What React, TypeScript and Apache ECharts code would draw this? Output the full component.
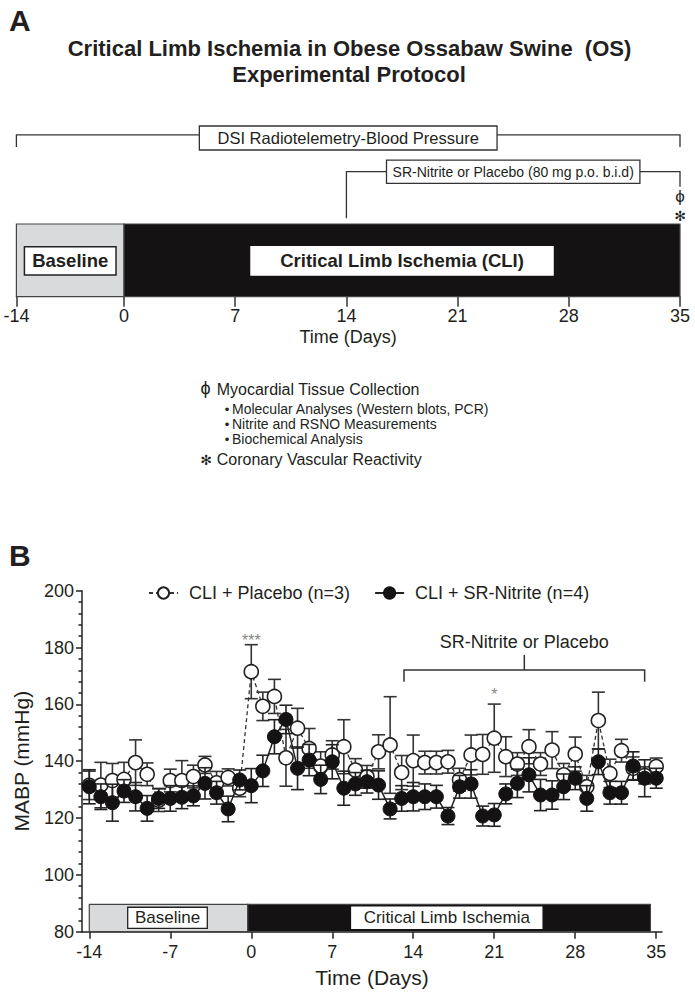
import React, { useEffect, useRef } from 'react';
import * as echarts from 'echarts';

const FONT = '"Liberation Sans", Arial, Helvetica, sans-serif';
const SYM_FONT = '"DejaVu Sans", "Liberation Sans", sans-serif';
const TXT = '#231f20';

// ---------------- Panel A: protocol ----------------
const protocolTickDays = [-14, 0, 7, 14, 21, 28, 35];
const protocolPhaseNames = ['Baseline', 'Critical Limb Ischemia (CLI)'];
const protocolPhaseStart = [-14, 0];
const protocolPhaseEnd = [0, 35];
const protocolBracketNames = ['DSI Radiotelemetry-Blood Pressure', 'SR-Nitrite or Placebo (80 mg p.o. b.i.d)'];
const protocolBracketStart = [-14, 14];
const protocolBracketEnd = [35, 35];
const endpointMarks = ['ϕ', '✻'];
const endpointDay = 35;
const noteHeaders = ['Myocardial Tissue Collection', 'Coronary Vascular Reactivity'];
const noteBullets = ['Molecular Analyses (Western blots, PCR)', 'Nitrite and RSNO Measurements', 'Biochemical Analysis'];

// ---------------- Panel B: MABP ----------------
const days = [-14, -13, -12, -11, -10, -9, -8, -7, -6, -5, -4, -3, -2, -1, 0, 1, 2, 3, 4, 5, 6, 7, 8, 9, 10,
  11, 12, 13, 14, 15, 16, 17, 18, 19, 20, 21, 22, 23, 24, 25, 26, 27, 28, 29, 30, 31, 32, 33, 34, 35];
const placeboMean = [131.5, 131.6, 133.2, 133.6, 139.5, 135.4, 126.3, 133.2, 133.2, 134.6, 138.7, 132.4, 134.3, 130.5,
  171.5, 159.3, 162.8, 141.2, 151.6, 144.5, 138.3, 142.2, 145.1, 136.9, 134.5, 143.3, 145.7, 136.0, 140.2, 139.5,
  139.5, 139.8, 133.5, 142.2, 142.4, 148.1, 141.6, 139.0, 145.1, 139.0, 143.9, 135.2, 142.5, 131.0, 154.3, 135.7,
  143.7, 137.5, 135.0, 138.1];
const placeboSem = [5, 8, 6, 6, 8, 4, 4, 4, 7, 4, 3, 4, 3, 3, 9.5, 5, 6, 10, 7, 7, 5, 5, 9.5, 4, 4, 6, 17, 6, 9, 4,
  4, 4, 4, 7, 7, 12, 7, 4, 6, 4, 6.5, 4, 6, 4, 10, 5, 4, 4, 3, 3];
const nitriteMean = [131.0, 127.5, 125.4, 129.5, 127.5, 123.4, 126.9, 126.9, 127.3, 127.8, 132.2, 128.9, 123.2, 133.4,
  131.4, 136.6, 148.6, 154.7, 137.5, 140.4, 133.6, 139.8, 130.5, 132.0, 132.8, 131.6, 123.2, 126.9, 127.5, 127.5,
  127.5, 120.7, 131.0, 132.0, 120.7, 121.1, 128.5, 132.2, 135.2, 128.1, 128.1, 131.0, 134.0, 126.9, 139.8, 128.9,
  128.9, 138.3, 134.0, 134.0];
const nitriteSem = [6, 4.5, 6.5, 4, 5, 4.5, 3.5, 4.5, 4, 3.5, 5.5, 4, 4.5, 3.5, 6, 5.5, 6, 5, 7.5, 5.5, 5, 6, 6, 4,
  4, 5, 3.5, 4.5, 5, 4.5, 4, 3, 4, 5, 3.5, 4, 3.5, 5, 6, 5.5, 5, 4.5, 4, 4.5, 4.5, 4, 4, 5, 6.5, 3.5];
const seriesNames = ['CLI + Placebo (n=3)', 'CLI + SR-Nitrite (n=4)'];
const xTickDays = [-14, -7, 0, 7, 14, 21, 28, 35];
const timelineNames = ['Baseline', 'Critical Limb Ischemia'];
const timelineStart = [-14, -0.3];
const timelineEnd = [-0.3, 34.5];
const treatmentLabel = 'SR-Nitrite or Placebo';
const treatmentStart = 13.2;
const treatmentEnd = 34.0;
const sigDays = [0, 21];
const sigValues = [182.4, 163.4];
const sigLabels = ['***', '*'];

// ---------------- layout helpers ----------------
const BASE_SCALE = 0.968; // baseline segment is drawn compressed in panel A
const dayToU = (d: number) => (d >= 0 ? d / 7 : (d / 14) * BASE_SCALE);
const uToDay = (u: number) => (u < 0 ? Math.round((u / BASE_SCALE) * 14) : Math.round(u * 7));

// Panel A vertical levels (pixels above the bar bottom)
const A_H = 176.7;
const A_BAR_TOP = 72.7;
const A_BOX_BOTTOM = 21.7;
const A_BOX_TOP = 50;
const A_PHASE_BOX_W = [91.6, 302];
const A_PHASE_FILL = ['#d9dadc', '#141213'];
const A_BR_LINE = [161.9, 125];
const A_BR_LEFT = [149.7, 78.4];
const A_BR_RIGHT = [149.7, 110];
const A_BR_BOX_W = [297.7, 253.4];
const A_BR_BOX_H = [24, 23.3];
const A_BR_FONT = [16.5, 14];
const A_MARK_LEVEL = [100, 80.5];
const A_MARK_FONT = [`17px ${FONT}`, `14px ${SYM_FONT}`];

// Panel B levels
const B_BAR_TOP = 89.6;
const B_BOX_BOTTOM = 81.2;
const B_BOX_TOP = 88.6;
const B_BOX_W = [79.6, 190];
const B_BOX_CENTER = [-7.24, 16.9];
const B_FILL = ['#d9dadc', '#141213'];
const B_BR_LINE = 172.1;
const B_BR_DROP = 168;
const B_BR_TICK = 177.4;
const B_BR_TEXT = 182.0;

const App = () => {
  const ref = useRef<HTMLDivElement>(null);
  useEffect(() => {
    if (!ref.current) return;
    const chart = echarts.init(ref.current, null, { renderer: 'svg' });

    const txt = (text: string, x: number, y: number, font: string, align = 'left', fill = TXT) => ({
      type: 'text', x, y,
      style: { text, font, fill, align, verticalAlign: 'middle', textAlign: align, textVerticalAlign: 'middle' },
    });

    const errRender = (color: string) => (params: any, api: any) => {
      const x = api.value(0);
      const pl = api.coord([x, api.value(1)]);
      const ph = api.coord([x, api.value(2)]);
      const cw = 6.5;
      const st = { stroke: color, lineWidth: 1.6 };
      return {
        type: 'group', children: [
          { type: 'line', shape: { x1: pl[0], y1: pl[1], x2: ph[0], y2: ph[1] }, style: st },
          { type: 'line', shape: { x1: ph[0] - cw, y1: ph[1], x2: ph[0] + cw, y2: ph[1] }, style: st },
          { type: 'line', shape: { x1: pl[0] - cw, y1: pl[1], x2: pl[0] + cw, y2: pl[1] }, style: st },
        ],
      };
    };

    const option: any = {
      animation: false,
      textStyle: { fontFamily: FONT, color: TXT },
      grid: [
        { left: 16.4, top: 296.7 - A_H, width: 663.6, height: A_H },
        { left: 82, top: 590.7, width: 580, height: 341 },
      ],
      xAxis: [
        {
          type: 'value', gridIndex: 0, min: dayToU(-14), max: 5,
          axisLine: { show: true, onZero: false, lineStyle: { color: '#333', width: 1.2 } },
          axisTick: { show: true, customValues: protocolTickDays.map(dayToU), length: 10, lineStyle: { color: '#333', width: 1.5 } },
          axisLabel: { customValues: protocolTickDays.map(dayToU), formatter: (v: number) => String(uToDay(v)), fontSize: 18, margin: 10, color: TXT, fontFamily: FONT },
          splitLine: { show: false },
          name: 'Time (Days)', nameLocation: 'middle', nameGap: 31.6,
          nameTextStyle: { fontSize: 18, color: TXT, fontFamily: FONT },
        },
        {
          type: 'value', gridIndex: 1, min: -14.63, max: 35.5,
          axisLine: { show: true, onZero: false, lineStyle: { color: '#222', width: 1.5 } },
          axisTick: { show: true, customValues: xTickDays, length: 7, lineStyle: { color: '#222', width: 1.5 } },
          axisLabel: { customValues: xTickDays, fontSize: 18, margin: 11, color: TXT, fontFamily: FONT },
          splitLine: { show: false },
          name: 'Time (Days)', nameLocation: 'middle', nameGap: 35.5,
          nameTextStyle: { fontSize: 21, color: TXT, fontFamily: FONT },
        },
      ],
      yAxis: [
        { type: 'value', gridIndex: 0, min: 0, max: A_H, show: false, axisLine: { onZero: false }, splitLine: { show: false } },
        {
          type: 'value', gridIndex: 1, min: 80, max: 200, interval: 20,
          axisLine: { show: true, onZero: false, lineStyle: { color: '#222', width: 1.5 } },
          axisTick: { show: true, length: 6, lineStyle: { color: '#222', width: 1.5 } },
          minorTick: { show: true, splitNumber: 5, length: 3.5, lineStyle: { color: '#222', width: 1.5 } },
          axisLabel: { fontSize: 18, margin: 8, color: TXT, fontFamily: FONT },
          splitLine: { show: false },
          name: 'MABP (mmHg)', nameLocation: 'middle', nameGap: 50,
          nameTextStyle: { fontSize: 21, color: TXT, fontFamily: FONT },
        },
      ],
      legend: {
        left: 148, top: 584, padding: 0, itemGap: 24, itemWidth: 29, itemHeight: 14,
        data: seriesNames,
        textStyle: { fontSize: 18, color: TXT, fontFamily: FONT, padding: [0, 0, 0, 6] },
      },
      graphic: [
        txt('A', 9, 20, `bold 30px ${FONT}`),
        txt('Critical Limb Ischemia in Obese Ossabaw Swine  (OS)', 349.5, 48, `bold 22px ${FONT}`, 'center'),
        txt('Experimental Protocol', 349, 74, `bold 22px ${FONT}`, 'center'),
        txt('ϕ', 205.5, 388, `18px ${FONT}`, 'center'),
        txt(noteHeaders[0], 216.7, 389, `16px ${FONT}`),
        ...noteBullets.map((b, i) => txt('•', 227, 409 + i * 15.2, `13px ${FONT}`, 'center')),
        ...noteBullets.map((b, i) => txt(b, 232, 409 + i * 15.2, `14px ${FONT}`)),
        txt('✻', 206, 459.5, `14px ${SYM_FONT}`, 'center'),
        txt(noteHeaders[1], 216.7, 459.3, `16px ${FONT}`),
        txt('B', 9, 555, `bold 30px ${FONT}`),
      ],
      series: [
        // Panel A phases
        {
          type: 'custom', xAxisIndex: 0, yAxisIndex: 0, z: 2,
          data: protocolPhaseNames.map((_, i) => [dayToU(protocolPhaseStart[i]), dayToU(protocolPhaseEnd[i]), i]),
          renderItem: (params: any, api: any) => {
            const i = api.value(2);
            const p0 = api.coord([api.value(0), 0]);
            const p1 = api.coord([api.value(1), A_BAR_TOP]);
            const b0 = api.coord([api.value(0), A_BOX_BOTTOM]);
            const b1 = api.coord([api.value(0), A_BOX_TOP]);
            const cx = (p0[0] + p1[0]) / 2;
            const bw = A_PHASE_BOX_W[i];
            return {
              type: 'group', children: [
                { type: 'rect', shape: { x: p0[0], y: p1[1], width: p1[0] - p0[0], height: p0[1] - p1[1] }, style: { fill: A_PHASE_FILL[i], stroke: '#444', lineWidth: 1.2 } },
                { type: 'rect', shape: { x: cx - bw / 2, y: b1[1], width: bw, height: b0[1] - b1[1] }, style: { fill: '#fff', stroke: i === 0 ? '#222' : '#fff', lineWidth: 1.5 } },
                { type: 'text', x: cx, y: (b0[1] + b1[1]) / 2, style: { text: protocolPhaseNames[i], fill: TXT, font: `bold 18.5px ${FONT}`, align: 'center', verticalAlign: 'middle' } },
              ],
            };
          },
        },
        // Panel A brackets
        {
          type: 'custom', xAxisIndex: 0, yAxisIndex: 0, z: 3,
          data: protocolBracketNames.map((_, i) => [dayToU(protocolBracketStart[i]), dayToU(protocolBracketEnd[i]), i]),
          renderItem: (params: any, api: any) => {
            const i = api.value(2);
            const sL = api.coord([api.value(0), A_BR_LINE[i]]);
            const eL = api.coord([api.value(1), A_BR_LINE[i]]);
            const sD = api.coord([api.value(0), A_BR_LEFT[i]]);
            const eD = api.coord([api.value(1), A_BR_RIGHT[i]]);
            const cx = (sL[0] + eL[0]) / 2;
            const cy = sL[1] + (i === 0 ? 3.2 : 0);
            const bw = A_BR_BOX_W[i];
            const bh = A_BR_BOX_H[i];
            return {
              type: 'group', children: [
                { type: 'polyline', shape: { points: [sD, sL, eL, eD] }, style: { stroke: '#333', lineWidth: 1.3, fill: null } },
                { type: 'rect', shape: { x: cx - bw / 2, y: cy - bh / 2, width: bw, height: bh }, style: { fill: '#fff', stroke: '#333', lineWidth: 1.3 } },
                { type: 'text', x: cx, y: cy, style: { text: protocolBracketNames[i], fill: TXT, font: `${A_BR_FONT[i]}px ${FONT}`, align: 'center', verticalAlign: 'middle' } },
              ],
            };
          },
        },
        // Panel A endpoint marks
        {
          type: 'custom', xAxisIndex: 0, yAxisIndex: 0, z: 3,
          data: endpointMarks.map((_, i) => [dayToU(endpointDay), i]),
          renderItem: (params: any, api: any) => {
            const i = api.value(1);
            const p = api.coord([api.value(0), A_MARK_LEVEL[i]]);
            return { type: 'text', x: p[0], y: p[1], style: { text: endpointMarks[i], fill: TXT, font: A_MARK_FONT[i], align: 'center', verticalAlign: 'middle' } };
          },
        },
        // Panel B timeline bar
        {
          type: 'custom', xAxisIndex: 1, yAxisIndex: 1, z: 1,
          data: timelineNames.map((_, i) => [timelineStart[i], timelineEnd[i], B_BOX_CENTER[i], i]),
          renderItem: (params: any, api: any) => {
            const i = api.value(3);
            const p0 = api.coord([api.value(0), 80]);
            const p1 = api.coord([api.value(1), B_BAR_TOP]);
            const c0 = api.coord([api.value(2), B_BOX_BOTTOM]);
            const c1 = api.coord([api.value(2), B_BOX_TOP]);
            const bw = B_BOX_W[i];
            return {
              type: 'group', children: [
                { type: 'rect', shape: { x: p0[0], y: p1[1], width: p1[0] - p0[0], height: p0[1] - p1[1] }, style: { fill: B_FILL[i], stroke: '#444', lineWidth: 1.2 } },
                { type: 'rect', shape: { x: c0[0] - bw / 2, y: c1[1], width: bw, height: c0[1] - c1[1] }, style: { fill: '#fff', stroke: i === 0 ? '#222' : '#fff', lineWidth: 1.3 } },
                { type: 'text', x: c0[0], y: (c0[1] + c1[1]) / 2, style: { text: timelineNames[i], fill: TXT, font: `17px ${FONT}`, align: 'center', verticalAlign: 'middle' } },
              ],
            };
          },
        },
        // Panel B treatment bracket
        {
          type: 'custom', xAxisIndex: 1, yAxisIndex: 1, z: 3,
          data: [[treatmentStart, treatmentEnd]],
          renderItem: (params: any, api: any) => {
            const s = api.value(0), e = api.value(1), m = (s + e) / 2;
            const pts = [api.coord([s, B_BR_DROP]), api.coord([s, B_BR_LINE]), api.coord([e, B_BR_LINE]), api.coord([e, B_BR_DROP])];
            const t0 = api.coord([m, B_BR_LINE]);
            const t1 = api.coord([m, B_BR_TICK]);
            const tt = api.coord([m, B_BR_TEXT]);
            return {
              type: 'group', children: [
                { type: 'polyline', shape: { points: pts }, style: { stroke: '#333', lineWidth: 1.5, fill: null } },
                { type: 'line', shape: { x1: t0[0], y1: t0[1], x2: t1[0], y2: t1[1] }, style: { stroke: '#333', lineWidth: 1.5 } },
                { type: 'text', x: tt[0], y: tt[1], style: { text: treatmentLabel, fill: TXT, font: `18px ${FONT}`, align: 'center', verticalAlign: 'middle' } },
              ],
            };
          },
        },
        // Error bars placebo
        {
          type: 'custom', xAxisIndex: 1, yAxisIndex: 1, z: 4,
          data: days.map((d, i) => [d, placeboMean[i] - placeboSem[i], placeboMean[i] + placeboSem[i]]),
          renderItem: errRender('#333'),
        },
        {
          name: seriesNames[0], type: 'line', xAxisIndex: 1, yAxisIndex: 1, z: 5,
          data: days.map((d, i) => [d, placeboMean[i]]),
          symbol: 'circle', symbolSize: 14,
          lineStyle: { color: '#333', width: 1.3, type: [4, 3] },
          itemStyle: { color: '#fff', borderColor: '#222', borderWidth: 1.6 },
        },
        // Error bars nitrite
        {
          type: 'custom', xAxisIndex: 1, yAxisIndex: 1, z: 6,
          data: days.map((d, i) => [d, nitriteMean[i] - nitriteSem[i], nitriteMean[i] + nitriteSem[i]]),
          renderItem: errRender('#222'),
        },
        {
          name: seriesNames[1], type: 'line', xAxisIndex: 1, yAxisIndex: 1, z: 7,
          data: days.map((d, i) => [d, nitriteMean[i]]),
          symbol: 'circle', symbolSize: 14,
          lineStyle: { color: '#222', width: 1.5 },
          itemStyle: { color: '#141213', borderColor: '#141213', borderWidth: 1 },
        },
        // significance marks
        {
          type: 'custom', xAxisIndex: 1, yAxisIndex: 1, z: 8,
          data: sigDays.map((d, i) => [d, sigValues[i], i]),
          renderItem: (params: any, api: any) => {
            const p = api.coord([api.value(0), api.value(1)]);
            return { type: 'text', x: p[0], y: p[1], style: { text: sigLabels[api.value(2)], fill: '#888', font: `16px ${FONT}`, align: 'center', verticalAlign: 'middle' } };
          },
        },
      ],
    };
    chart.setOption(option);
    return () => chart.dispose();
  }, []);
  return <div ref={ref} style={{ position: 'absolute', left: 0, top: 0, width: 695, height: 995, background: '#fff' }} />;
};

export default App;
